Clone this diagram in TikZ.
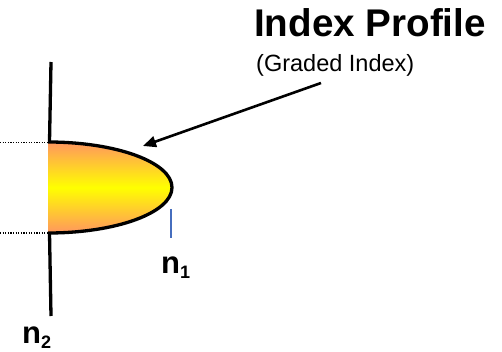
\documentclass[tikz,border=0pt]{standalone}
\usepackage{fontspec}
\setmainfont{Liberation Sans}
\usetikzlibrary{arrows.meta}
\definecolor{profOrange}{RGB}{255,150,95}
\definecolor{profYellow}{RGB}{255,255,0}
\definecolor{tickBlue}{RGB}{70,110,190}
\tikzset{
  axisline/.style={line width=3.3pt, black},
  dotline/.style={line width=1.3pt, black, dash pattern=on 1.2pt off 1.4pt},
  lbl/.style={inner sep=0pt, anchor=base west, font=\bfseries\fontsize{31}{31}\selectfont},
  pointer/.style={line width=2.6pt, -{Triangle[length=13pt,width=11pt]}}
}
\begin{document}
\begin{tikzpicture}[x=1pt,y=-1pt]
\useasboundingbox (0,0) rectangle (502,352);
% profile fill
\shade[top color=profOrange, bottom color=profOrange, middle color=profYellow]
  (48,142) arc[start angle=-90, end angle=90, x radius=124, y radius=45.5] -- cycle;
\draw[line width=3.3pt] (48,142) arc[start angle=-90, end angle=90, x radius=124, y radius=45.5];
% axis lines
\coordinate (topA) at (51,62);
\coordinate (topB) at (49.5,142);
\coordinate (botA) at (49.5,233);
\coordinate (botB) at (51,316);
\draw[axisline] (topA) -- (topB);
\draw[axisline] (botA) -- (botB);
% dotted lines
\coordinate (d1a) at (0,142.5);
\coordinate (d1b) at (47,142.5);
\coordinate (d2a) at (0,233);
\coordinate (d2b) at (47,233);
\draw[dotline] (d1a) -- (d1b);
\draw[dotline] (d2a) -- (d2b);
% blue tick
\coordinate (t1) at (171,209);
\coordinate (t2) at (171,238);
\draw[tickBlue, line width=1.2pt] (t1) -- (t2);
% labels
\node[lbl] (n1) at (161,273) {n\raisebox{-5pt}{\fontsize{18}{18}\selectfont 1}};
\node[lbl] (n2) at (22,343) {n\raisebox{-5pt}{\fontsize{18}{18}\selectfont 2}};
\node[inner sep=0pt, anchor=base west, font=\bfseries\fontsize{38.6}{38}\selectfont] (title) at (254,37) {Index Profile};
\node[inner sep=0pt, anchor=base west, font=\fontsize{23.5}{24}\selectfont] (sub) at (256,72) {(Graded Index)};
% arrow
\coordinate (arrStart) at (321,83);
\coordinate (arrEnd) at (143,146);
\draw[pointer] (arrStart) -- (arrEnd);
\end{tikzpicture}
\end{document}
